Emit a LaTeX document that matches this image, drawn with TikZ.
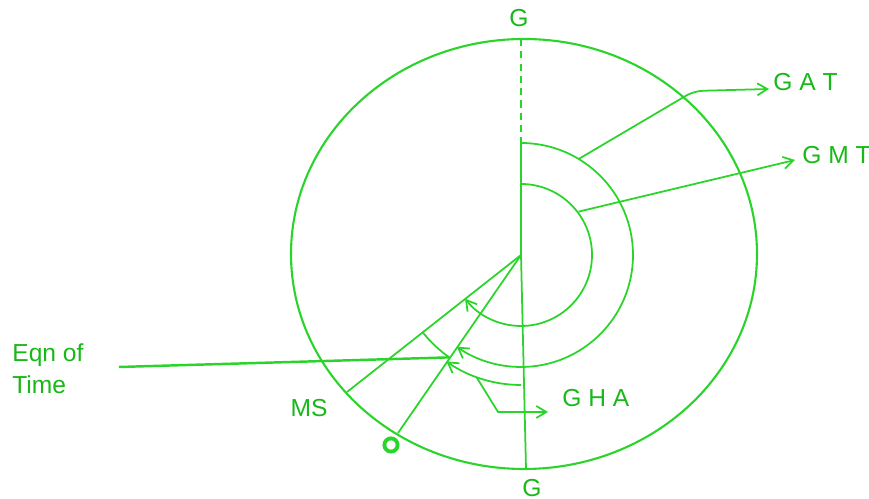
\documentclass[tikz,border=0pt]{standalone}
\usepackage{fontspec}
\setmainfont{Liberation Sans}
\usetikzlibrary{arrows.meta,calc}
\definecolor{lime}{HTML}{2BD42B}
\definecolor{leaf}{HTML}{19B819}

\begin{document}
\begin{tikzpicture}[x=0.02cm,y=0.02cm,line/.style={draw=lime,line width=1pt},arc/.style={line,-{Straight Barb[length=2mm,width=2.4mm]}},lbl/.style={text=leaf,font=\fontsize{14}{18}\selectfont,inner sep=0pt}]
 \useasboundingbox (0,0) rectangle (869,499);
 \coordinate (A) at (521,244);
 \coordinate (T) at (521,460);
 \coordinate (B) at (526,30);
 \coordinate (ms) at (347,107);
 \coordinate (sn) at (398,66);
 % dial
 \draw[line,line width=1.2pt] (524,245) ellipse [x radius=233,y radius=215];
 \draw[line,dash pattern=on 4pt off 3pt] (T) -- ($(A)+(0,112)$);
 \draw[line] ($(A)+(0,112)$) -- (A) -- (B);
 \draw[line] (A) -- (ms);
 \draw[line] (A) -- (sn);
 \node[circle,draw=lime,line width=2.2pt,minimum size=7.5pt,inner sep=0pt] (sun) at (391,54) {};
 % labels
 \node[lbl] (gtop) at (519,481) {G};
 \node[lbl] (gbot) at (532,11) {G};
 \node[lbl] (msl) at (309,91) {MS};
 \node[lbl,anchor=west] (gat) at (773,417) {G A T};
 \node[lbl,anchor=west] (gmt) at (802,344) {G M T};
 \node[lbl,anchor=west] (gha) at (562,101) {G H A};
 \node[lbl,anchor=west,align=left] (eqn) at (12,130) {Eqn of\\Time};
 % angles
 \draw[arc] ($(A)+(90:71)$) arc[start angle=90,end angle=-142,radius=71];
 \draw[arc] ($(A)+(90:112)$) arc[start angle=90,end angle=-125,radius=112];
 \draw[arc] ($(A)+(270:130)$) arc[start angle=-90,end angle=-125,radius=130];
 \draw[line] ($(A)+(218:125)$) arc[start angle=218,end angle=235,radius=125];
 % leaders
 \draw[arc,rounded corners=5pt] ($(A)+(59:112)$) -- (694,408) -- ($(gat.west)+(-4,-7)$);
 \draw[arc] ($(A)+(37:72)$) -- ($(gmt.west)+(-7,-5)$);
 \draw[arc] ($(A)+(250:130)$) -- (498,87) -- ($(gha.west)+(-14,-14)$);
 \draw[line,line width=1.4pt] ($(eqn.east)+(35,2)$) -- ($(A)+(235:125)$);
\end{tikzpicture}
\end{document}
